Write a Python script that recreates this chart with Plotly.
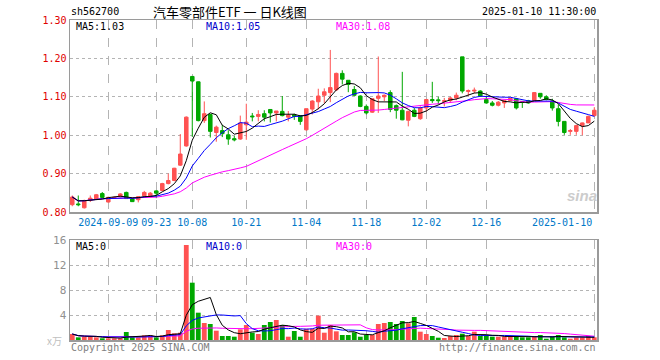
import pandas as pd
import plotly.graph_objects as go

dates = [
    "2024-08-30",
    "2024-09-02", "2024-09-03", "2024-09-04", "2024-09-05", "2024-09-06",
    "2024-09-09", "2024-09-10", "2024-09-11", "2024-09-12", "2024-09-13",
    "2024-09-18", "2024-09-19", "2024-09-20",
    "2024-09-23", "2024-09-24", "2024-09-25", "2024-09-26", "2024-09-27",
    "2024-09-30",
    "2024-10-08", "2024-10-09", "2024-10-10", "2024-10-11",
    "2024-10-14", "2024-10-15", "2024-10-16", "2024-10-17", "2024-10-18",
    "2024-10-21", "2024-10-22", "2024-10-23", "2024-10-24", "2024-10-25",
    "2024-10-28", "2024-10-29", "2024-10-30", "2024-10-31",
    "2024-11-01",
    "2024-11-04", "2024-11-05", "2024-11-06", "2024-11-07", "2024-11-08",
    "2024-11-11", "2024-11-12", "2024-11-13", "2024-11-14", "2024-11-15",
    "2024-11-18", "2024-11-19", "2024-11-20", "2024-11-21", "2024-11-22",
    "2024-11-25", "2024-11-26", "2024-11-27", "2024-11-28", "2024-11-29",
    "2024-12-02", "2024-12-03", "2024-12-04", "2024-12-05", "2024-12-06",
    "2024-12-09", "2024-12-10", "2024-12-11", "2024-12-12", "2024-12-13",
    "2024-12-16", "2024-12-17", "2024-12-18", "2024-12-19", "2024-12-20",
    "2024-12-23", "2024-12-24", "2024-12-25", "2024-12-26", "2024-12-27",
    "2024-12-30", "2024-12-31",
    "2025-01-02", "2025-01-03",
    "2025-01-06", "2025-01-07", "2025-01-08", "2025-01-09", "2025-01-10",
]

opens = [0.819, 0.821, 0.811, 0.830, 0.833, 0.848, 0.826, 0.836, 0.840, 0.851,
         0.834, 0.832, 0.842, 0.840, 0.855, 0.856, 0.874, 0.882, 0.922, 0.972,
         1.153, 1.139, 1.038, 1.054, 1.007, 1.012, 1.001, 0.991, 0.990, 1.027,
         1.050, 1.049, 1.056, 1.067, 1.058, 1.062, 1.047, 1.053, 1.051, 1.014,
         1.068, 1.087, 1.104, 1.111, 1.118, 1.161, 1.143, 1.119, 1.102, 1.075,
         1.060, 1.096, 1.100, 1.111, 1.077, 1.065, 1.039, 1.065, 1.043, 1.071,
         1.093, 1.092, 1.088, 1.090, 1.097, 1.204, 1.114, 1.115, 1.115, 1.093,
         1.084, 1.078, 1.084, 1.090, 1.095, 1.088, 1.090, 1.090, 1.109, 1.100,
         1.089, 1.069, 1.036, 1.010, 1.010, 1.025, 1.032, 1.051]
highs = [0.843, 0.843, 0.832, 0.843, 0.847, 0.852, 0.840, 0.840, 0.849, 0.853,
         0.836, 0.841, 0.855, 0.852, 0.856, 0.876, 0.900, 0.915, 1.003, 1.049,
         1.154, 1.140, 1.088, 1.056, 1.025, 1.027, 1.013, 0.998, 1.051, 1.082,
         1.058, 1.065, 1.065, 1.068, 1.063, 1.102, 1.063, 1.056, 1.051, 1.069,
         1.091, 1.121, 1.122, 1.222, 1.163, 1.169, 1.143, 1.128, 1.104, 1.080,
         1.095, 1.205, 1.106, 1.117, 1.080, 1.165, 1.064, 1.071, 1.075, 1.093,
         1.139, 1.100, 1.097, 1.100, 1.111, 1.204, 1.119, 1.124, 1.117, 1.100,
         1.089, 1.089, 1.090, 1.097, 1.097, 1.089, 1.092, 1.112, 1.109, 1.104,
         1.095, 1.080, 1.036, 1.016, 1.027, 1.033, 1.051, 1.073]
lows = [0.815, 0.815, 0.809, 0.826, 0.832, 0.836, 0.825, 0.834, 0.838, 0.834,
        0.826, 0.825, 0.841, 0.838, 0.836, 0.855, 0.872, 0.880, 0.920, 0.970,
        0.996, 1.036, 1.032, 0.994, 0.983, 0.995, 0.975, 0.984, 0.988, 0.988,
        1.036, 1.036, 1.036, 1.033, 1.036, 1.049, 1.036, 1.040, 1.027, 1.012,
        1.054, 1.067, 1.084, 1.086, 1.115, 1.132, 1.112, 1.102, 1.073, 1.054,
        1.058, 1.058, 1.089, 1.060, 1.043, 1.039, 1.023, 1.047, 1.040, 1.062,
        1.084, 1.080, 1.075, 1.084, 1.091, 1.109, 1.102, 1.109, 1.100, 1.082,
        1.075, 1.075, 1.071, 1.089, 1.067, 1.071, 1.082, 1.089, 1.095, 1.091,
        1.064, 1.023, 1.001, 1.001, 1.001, 1.000, 1.032, 1.049]
closes = [0.839, 0.819, 0.830, 0.836, 0.845, 0.838, 0.838, 0.838, 0.847, 0.835,
          0.827, 0.840, 0.851, 0.849, 0.849, 0.874, 0.882, 0.914, 0.951, 1.047,
          1.141, 1.038, 1.056, 1.010, 1.021, 1.004, 0.990, 0.988, 1.032, 1.034,
          1.048, 1.054, 1.047, 1.058, 1.063, 1.051, 1.052, 1.049, 1.036, 1.069,
          1.089, 1.102, 1.113, 1.124, 1.161, 1.146, 1.132, 1.104, 1.075, 1.058,
          1.095, 1.102, 1.104, 1.067, 1.065, 1.040, 1.062, 1.049, 1.071, 1.093,
          1.090, 1.090, 1.090, 1.097, 1.104, 1.115, 1.116, 1.117, 1.102, 1.084,
          1.078, 1.086, 1.090, 1.096, 1.071, 1.086, 1.084, 1.111, 1.100, 1.093,
          1.071, 1.036, 1.007, 1.012, 1.025, 1.032, 1.049, 1.065]
volumes = [0.96, 0.43, 0.48, 0.64, 0.43, 0.27, 0.27, 0.27, 0.27, 1.28,
           0.43, 0.43, 0.75, 0.75, 0.43, 0.75, 1.60, 1.07, 1.17, 15.2,
           9.17, 4.37, 2.72, 2.56, 1.49, 0.64, 0.64, 0.53, 1.71, 2.40,
           1.17, 0.96, 2.40, 2.88, 3.20, 2.40, 0.53, 1.44, 0.53, 1.81,
           1.81, 3.90, 1.17, 2.40, 1.39, 0.80, 0.80, 1.23, 0.53, 0.80,
           0.80, 2.56, 2.72, 2.88, 2.56, 3.04, 2.67, 3.68, 1.33, 0.96,
           0.64, 0.37, 0.32, 0.64, 0.80, 1.01, 0.64, 1.33, 0.64, 0.64,
           0.53, 0.53, 0.53, 0.53, 0.53, 0.43, 0.43, 0.53, 0.80, 0.21,
           0.53, 0.80, 0.43, 0.21, 0.43, 0.43, 0.64, 0.43]

tick_dates = ["2024-09-09", "2024-09-23", "2024-10-08", "2024-10-21", "2024-11-04",
              "2024-11-18", "2024-12-02", "2024-12-16", "2025-01-10"]
tick_labels = ["2024-09-09", "09-23", "10-08", "10-21", "11-04",
               "11-18", "12-02", "12-16", ""]
last_label = "2025-01-10"
price_ticks = [0.80, 0.90, 1.00, 1.10, 1.20, 1.30]
vol_ticks = [4, 8, 12, 16]
ma_label_values = ["1.03", "1.05", "1.08"]   # as printed in the chart header
vol_ma_label_values = ["0", "0", "0"]

RED = "#ff5252"
GREEN = "#00a800"
MONO = "DejaVu Sans Mono"

close_s = pd.Series(closes)
vol_s = pd.Series(volumes)
ma = {n: close_s.rolling(n, min_periods=1).mean() for n in (5, 10, 30)}
vma = {n: vol_s.rolling(n, min_periods=1).mean() for n in (5, 10, 30)}
ma_colors = {5: "#000000", 10: "#0000ff", 30: "#ff00ff"}

fig = go.Figure()
fig.add_trace(go.Candlestick(
    x=dates, open=opens, high=highs, low=lows, close=closes,
    increasing=dict(line=dict(color=RED, width=1), fillcolor=RED),
    decreasing=dict(line=dict(color=GREEN, width=1), fillcolor=GREEN),
    whiskerwidth=0, xaxis="x", yaxis="y", showlegend=False, hoverinfo="skip"))
for n in (30, 10, 5):
    fig.add_trace(go.Scatter(x=dates, y=ma[n], mode="lines",
                             line=dict(color=ma_colors[n], width=1),
                             xaxis="x", yaxis="y", showlegend=False, hoverinfo="skip"))

bar_colors = [RED if c >= o else GREEN for o, c in zip(opens, closes)]
fig.add_trace(go.Bar(x=dates, y=volumes, marker=dict(color=bar_colors, line=dict(width=0)),
                     width=0.8, xaxis="x2", yaxis="y2", showlegend=False, hoverinfo="skip"))
for n in (30, 10, 5):
    fig.add_trace(go.Scatter(x=dates, y=vma[n], mode="lines",
                             line=dict(color=ma_colors[n], width=1),
                             xaxis="x2", yaxis="y2", showlegend=False, hoverinfo="skip"))

W, H = 660, 360
xdom = [70 / W, 597 / W]
xrange = [-0.38, len(dates) - 1 + 0.45]
common_x = dict(type="category", range=xrange, domain=xdom, showgrid=True,
                gridcolor="#b4b4b4", griddash="dash", gridwidth=1,
                showline=True, mirror=True, linecolor="#9a9a9a", linewidth=1.5,
                ticks="", tickvals=tick_dates, zeroline=False, fixedrange=True,
                automargin=False)

fig.update_layout(
    width=W, height=H, autosize=False,
    margin=dict(l=0, r=0, t=0, b=0, pad=0, autoexpand=False),
    paper_bgcolor="white", plot_bgcolor="white", boxgap=0.16, bargap=0.2,
    showlegend=False,
    xaxis=dict(common_x, anchor="y", ticktext=tick_labels,
               tickfont=dict(family=MONO, size=10, color="#0078c8"),
               rangeslider=dict(visible=False)),
    xaxis2=dict(common_x, anchor="y2", showticklabels=False, matches="x"),
    yaxis=dict(domain=[1 - 212 / H, 1 - 20 / H], range=[0.8, 1.3],
               tickvals=price_ticks, ticktext=[f"{v:.2f}" for v in price_ticks],
               tickfont=dict(family=MONO, size=10, color="#e00000"),
               showgrid=True, gridcolor="#b4b4b4", griddash="dot", gridwidth=1,
               showline=True, mirror=True, linecolor="#9a9a9a", linewidth=1.5,
               zeroline=False, ticks="", fixedrange=True, automargin=False),
    yaxis2=dict(domain=[1 - 340 / H, 1 - 240 / H], range=[0, 16],
                tickvals=vol_ticks, ticktext=[str(v) for v in vol_ticks],
                tickfont=dict(family=MONO, size=11, color="#909090"),
                showgrid=True, gridcolor="#b4b4b4", griddash="dot", gridwidth=1,
                showline=True, mirror=True, linecolor="#9a9a9a", linewidth=1.5,
                zeroline=False, ticks="", fixedrange=True, automargin=False),
)


def txt(text, px, py, color="#000000", size=10, anchor="left", family=MONO, **kw):
    fig.add_annotation(text=text, x=px / W, y=1 - py / H, xref="paper", yref="paper",
                       xanchor=anchor, yanchor="middle", showarrow=False,
                       font=dict(family=family, size=size, color=color), **kw)


txt("sh562700", 69, 12)
txt("汽车零部件ETF 一 日K线图", 230, 11.5, size=13, anchor="center",
    family="Noto Sans CJK SC")
txt("2025-01-10 11:30:00", 598, 12, anchor="right")
txt(f"MA5:{ma_label_values[0]}", 74, 27, color="#000000")
txt(f"MA10:{ma_label_values[1]}", 204, 27, color="#0000cc")
txt(f"MA30:{ma_label_values[2]}", 334, 27, color="#ff00ff")
txt(f"MA5:{vol_ma_label_values[0]}", 74, 246, color="#000000")
txt(f"MA10:{vol_ma_label_values[1]}", 204, 246, color="#0000cc")
txt(f"MA30:{vol_ma_label_values[2]}", 334, 246, color="#ff00ff")
txt("x万", 64, 340, color="#c0c0c0", size=10, anchor="right", family="Noto Sans CJK SC")
txt("Copyright 2025 SINA.COM", 69, 347, color="#808080")
txt("http://finance.sina.com.cn", 598, 347, color="#808080", anchor="right")
txt("<b><i>sina</i></b>", 582, 196, color="#cccccc", size=15, anchor="center",
    family="Arial")
fig.add_annotation(text=last_label, x=dates[-1], y=1 - 222 / H, xref="x", yref="paper",
                   xanchor="right", yanchor="middle", showarrow=False,
                   font=dict(family=MONO, size=10, color="#0078c8"))

fig.write_html(
    "out.html",
    config={"displayModeBar": False, "staticPlot": True},
    post_script="document.body.style.margin='0';document.body.style.overflow='hidden';"
)
